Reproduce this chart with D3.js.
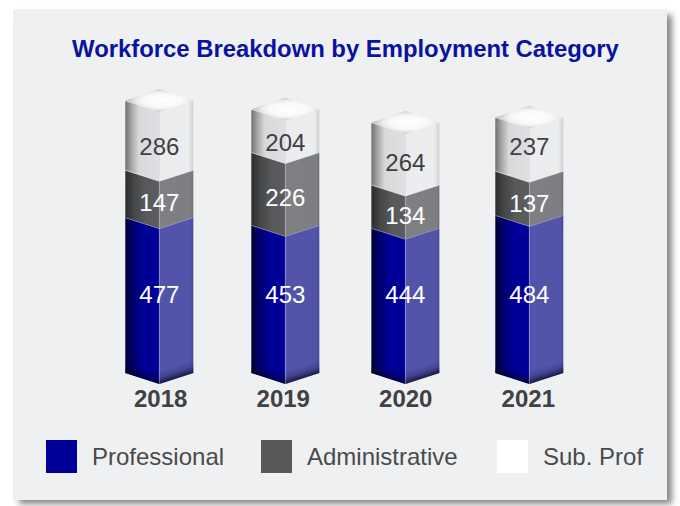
<!DOCTYPE html>
<html><head><meta charset="utf-8">
<script src="https://cdn.jsdelivr.net/npm/d3@7"></script>
<style>html,body{margin:0;padding:0;background:#fff}svg{display:block}text{font-family:"Liberation Sans",Arial,sans-serif}</style>
</head><body><svg id="c" width="680" height="506"></svg>
<script>
const years = ["2018","2019","2020","2021"];
const seriesNames = ["Professional","Administrative","Sub. Prof"];
const professional = [477,453,444,484];
const administrative = [147,226,134,137];
const subProf = [286,204,264,237];

// layout only
const W=680,H=506, halfW=34, rise=11, floorY=384;
const barNudge=[-0.9,2.6,0.1,1.5];
const labelNudge=[[0,-2,0],[0,-2,0],[-3,-2,0],[-9,-1,0]];

const svg=d3.select("#c");
const defs=svg.append("defs");
function lin(id,stops,attrs){
  const g=defs.append("linearGradient").attr("id",id);
  Object.entries(attrs||{x1:0,y1:0,x2:1,y2:0}).forEach(([k,v])=>g.attr(k,v));
  stops.forEach(([o,c,a])=>g.append("stop").attr("offset",o).attr("stop-color",c).attr("stop-opacity",a==null?1:a));
}
lin("p-l",[[0,"#00002e"],[.2,"#000068"],[.55,"#000099"],[1,"#000099"]]);
lin("p-r",[[0,"#5254a9"],[.9,"#5254a9"],[1,"#47499a"]]);
lin("a-l",[[0,"#2b2b2c"],[.25,"#444546"],[.6,"#58595b"],[1,"#5b5c5e"]]);
lin("a-r",[[0,"#7f8083"],[.92,"#7d7e81"],[1,"#6f7073"]]);
lin("s-l",[[0,"#6f7071"],[.18,"#a5a6a7"],[.4,"#d8d9da"],[1,"#dfe0e1"]]);
lin("s-r",[[0,"#ebeced"],[.85,"#ecedee"],[1,"#cfd0d2"]]);
const shadeAttr={gradientUnits:"userSpaceOnUse"};
lin("sh-l",[[0,"#000020",.7],[.5,"#000020",.18],[1,"#000020",0]],{...shadeAttr,x1:-17,y1:378.5,x2:-13.2,y2:366.5});
lin("sh-r",[[0,"#000020",.7],[.5,"#000020",.18],[1,"#000020",0]],{...shadeAttr,x1:17,y1:378.5,x2:13.2,y2:366.5});
const rg=defs.append("radialGradient").attr("id","cap").attr("cx",.55).attr("cy",.5).attr("r",.62);
[[0,"#ffffff"],[.45,"#f9f9f9"],[.6,"#eeeeef"],[.85,"#bfc0c1"],[1,"#a6a7a8"]].forEach(([o,c])=>rg.append("stop").attr("offset",o).attr("stop-color",c));
const blur=defs.append("filter").attr("id","blur").attr("x","-5%").attr("y","-5%").attr("width","110%").attr("height","110%");
blur.append("feGaussianBlur").attr("stdDeviation",3);

// panel
svg.append("rect").attr("x",19).attr("y",15).attr("width",653).attr("height",489).attr("fill","#858585").attr("filter","url(#blur)");
svg.append("rect").attr("x",13).attr("y",9).attr("width",654).attr("height",491).attr("fill","#eff0f1");

// title
svg.append("text").attr("x",345.5).attr("y",57).attr("text-anchor","middle")
  .attr("font-size",23.85).attr("font-weight","bold").attr("fill","#0a12a0")
  .text("Workforce Breakdown by Employment Category");

// scales
const x=d3.scalePoint().domain(years).range([160.2,527.8]);
const y=d3.scaleLinear().domain([0,1000]).range([382.5,60]);

const rows=years.map((yr,i)=>({yr,i,vals:[professional[i],administrative[i],subProf[i]]}));
const stack=d3.stack().keys([0,1,2]).value((d,k)=>d.vals[k])(rows);
const keys=["p","a","s"];

const bars=svg.selectAll("g.bar").data(rows).join("g").attr("class","bar")
  .attr("transform",d=>`translate(${x(d.yr)+barNudge[d.i]},0)`);

const poly=pts=>pts.map(p=>p.join(",")).join(" ");
bars.each(function(d){
  const g=d3.select(this);
  const apex=y(stack[2][d.i][1]);
  const topF=apex+2*rise+1;
  const fronts=[floorY,y(stack[0][d.i][1]),y(stack[1][d.i][1]),topF];
  for(let k=0;k<3;k++){
    const b=fronts[k],t=fronts[k+1];
    g.append("polygon").attr("points",poly([[-halfW,b-rise],[0,b],[0,t],[-halfW,t-rise]])).attr("fill",`url(#${keys[k]}-l)`);
    g.append("polygon").attr("points",poly([[0,b],[halfW,b-rise],[halfW,t-rise],[0,t]])).attr("fill",`url(#${keys[k]}-r)`);
    if(k===0){
      g.append("polygon").attr("points",poly([[-halfW,b-rise],[0,b],[0,b-24],[-halfW,b-rise-24]])).attr("fill","url(#sh-l)");
      g.append("polygon").attr("points",poly([[0,b],[halfW,b-rise],[halfW,b-rise-24],[0,b-24]])).attr("fill","url(#sh-r)");
    }
    if(k>0){
      g.append("polyline").attr("points",poly([[-halfW,b-rise],[0,b],[halfW,b-rise]]))
        .attr("fill","none").attr("stroke",k===1?"#8f90c8":"#e4e4e6").attr("stroke-width",.6);
    }
  }
  g.append("line").attr("x1",0).attr("x2",0).attr("y1",floorY).attr("y2",topF)
    .attr("stroke","#c4c5e0").attr("stroke-opacity",.55).attr("stroke-width",.7);
  g.append("polygon").attr("points",poly([[0,apex],[halfW,apex+rise+.5],[0,topF],[-halfW,apex+rise+.5]])).attr("fill","url(#cap)");
  const colors=["#ffffff","#ffffff","#414042"];
  for(let k=0;k<3;k++){
    const base=k===0?294.5:(fronts[k]+fronts[k+1])/2+labelNudge[d.i][2-k];
    g.append("text").attr("x",0).attr("y",base).attr("dy","0.355em").attr("text-anchor","middle")
      .attr("font-size",24).attr("fill",colors[k]).text(d.vals[k]);
  }
});

// category axis
const ax=svg.append("g").attr("transform","translate(0,407)").call(d3.axisBottom(x).tickSize(0).tickPadding(0));
ax.select(".domain").remove();
ax.selectAll("text").attr("font-family",'"Liberation Sans",Arial,sans-serif').attr("font-size",24).attr("font-weight","bold").attr("fill","#414042").attr("dy",0).attr("y",0);

// legend
const legX=d3.scaleOrdinal().domain(seriesNames).range([46,261,497]);
const legC=d3.scaleOrdinal().domain(seriesNames).range(["#000099","#58595b","#ffffff"]);
const leg=svg.selectAll("g.leg").data(seriesNames).join("g").attr("class","leg").attr("transform",d=>`translate(${legX(d)},440)`);
leg.append("rect").attr("width",31).attr("height",33).attr("fill",d=>legC(d));
leg.append("text").attr("x",46).attr("y",25).attr("font-size",24).attr("fill","#4a4a4c").text(d=>d);
</script></body></html>
